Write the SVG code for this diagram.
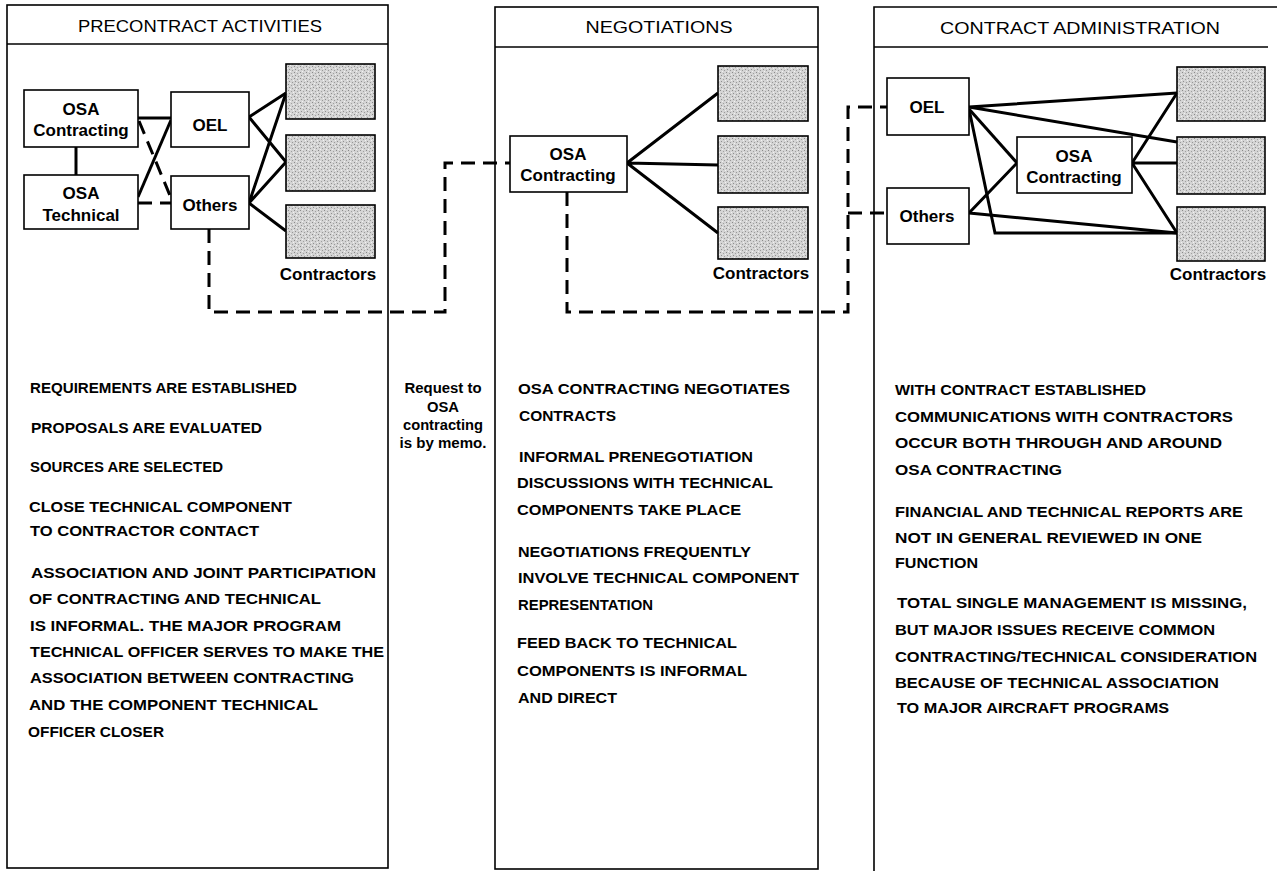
<svg xmlns="http://www.w3.org/2000/svg" width="1277" height="871" viewBox="0 0 1277 871">
<defs>
<pattern id="stip" width="6" height="6" patternUnits="userSpaceOnUse">
<rect width="6" height="6" fill="#d4d4d4"/>
<rect x="0" y="0" width="1" height="1" fill="#8a8a8a"/>
<rect x="3" y="1" width="1" height="1" fill="#a0a0a0"/>
<rect x="1" y="3" width="1" height="1" fill="#909090"/>
<rect x="4" y="4" width="1" height="1" fill="#999999"/>
<rect x="5" y="2" width="1" height="1" fill="#f2f2f2"/>
<rect x="2" y="5" width="1" height="1" fill="#f2f2f2"/>
</pattern>
<style>
.panel{fill:none;stroke:#000;stroke-width:1.6}
.box{fill:#fff;stroke:#000;stroke-width:1.6}
.con{fill:url(#stip);stroke:#000;stroke-width:1.6}
.ln{fill:none;stroke:#000;stroke-width:3}
.dash{fill:none;stroke:#000;stroke-width:3;stroke-dasharray:14 8}
.hd{font-family:"Liberation Sans",Arial,sans-serif;font-size:17px;text-anchor:middle;fill:#000}
.nd{font-family:"Liberation Sans",Arial,sans-serif;font-size:17px;font-weight:bold;text-anchor:middle;fill:#000}
.tx{font-family:"Liberation Sans",Arial,sans-serif;font-size:15.5px;font-weight:bold;fill:#000}
.memo{font-family:"Liberation Sans",Arial,sans-serif;font-size:14px;font-weight:bold;text-anchor:middle;fill:#000}
</style>
</defs>
<rect width="1277" height="871" fill="#fff"/>

<g id="panels">
<rect class="panel" x="7" y="5" width="381" height="863"/>
<line class="panel" x1="7" y1="44" x2="388" y2="44"/>
<rect class="panel" x="495" y="7" width="323" height="862"/>
<line class="panel" x1="495" y1="47" x2="818" y2="47"/>
<path class="panel" d="M874,871 V7 H1277"/>
<line class="panel" x1="874" y1="47" x2="1268" y2="47"/>
<text class="hd" x="200" y="32" textLength="244" lengthAdjust="spacingAndGlyphs">PRECONTRACT  ACTIVITIES</text>
<text class="hd" x="659" y="33" textLength="147" lengthAdjust="spacingAndGlyphs">NEGOTIATIONS</text>
<text class="hd" x="1080" y="34" textLength="280" lengthAdjust="spacingAndGlyphs">CONTRACT  ADMINISTRATION</text>
</g>

<g id="connectors">
<path class="ln" d="M138,118 H171"/>
<path class="ln" d="M76,147 V175"/>
<path class="ln" d="M138,197 L171,120"/>
<path class="dash" d="M139,121 L171,198"/>
<path class="dash" d="M138,203 H171"/>
<path class="ln" d="M249,117 L286,93 M249,117 L286,162"/>
<path class="ln" d="M249,203 L286,93 M249,203 L286,162 M249,203 L286,231"/>
<path class="dash" d="M209,229 V312 H445 V163 H510"/>
<path class="ln" d="M627,163 L718,93 M627,163 L718,165 M627,163 L718,233"/>
<path class="dash" d="M567,192 V312 H848 V107 H887"/>
<path class="dash" d="M848,213 H887"/>
<path class="ln" d="M969,107 L1177,93 M969,107 L1177,142"/>
<path class="ln" d="M969,109 L1017,163"/>
<path class="ln" d="M969,109 L995,233 H1177"/>
<path class="ln" d="M969,213 L1017,163 M969,213 L1177,233"/>
<path class="ln" d="M1132,163 L1177,93 M1132,163 H1177 M1132,163 L1177,233"/>
</g>

<g id="p1-osa-contracting">
<rect class="box" x="24" y="90" width="114" height="57"/>
<text class="nd" x="81" y="115">OSA</text>
<text class="nd" x="81" y="136">Contracting</text>
</g>
<g id="p1-osa-technical">
<rect class="box" x="24" y="175" width="114" height="54"/>
<text class="nd" x="81" y="199">OSA</text>
<text class="nd" x="81" y="221">Technical</text>
</g>
<g id="p1-oel">
<rect class="box" x="171" y="92" width="78" height="55"/>
<text class="nd" x="210" y="131">OEL</text>
</g>
<g id="p1-others">
<rect class="box" x="171" y="176" width="78" height="53"/>
<text class="nd" x="210" y="211">Others</text>
</g>
<g id="p1-contractors">
<rect class="con" x="286" y="64" width="89" height="55"/>
<rect class="con" x="286" y="135" width="89" height="56"/>
<rect class="con" x="286" y="205" width="89" height="53"/>
<text class="nd" x="328" y="280">Contractors</text>
</g>

<g id="p2-osa-contracting">
<rect class="box" x="510" y="136" width="117" height="56"/>
<text class="nd" x="568" y="160">OSA</text>
<text class="nd" x="568" y="181">Contracting</text>
</g>
<g id="p2-contractors">
<rect class="con" x="718" y="66" width="90" height="55"/>
<rect class="con" x="718" y="136" width="90" height="57"/>
<rect class="con" x="718" y="207" width="90" height="52"/>
<text class="nd" x="761" y="279">Contractors</text>
</g>

<g id="p3-oel">
<rect class="box" x="887" y="78" width="82" height="57"/>
<text class="nd" x="927" y="113">OEL</text>
</g>
<g id="p3-others">
<rect class="box" x="887" y="188" width="82" height="56"/>
<text class="nd" x="927" y="222">Others</text>
</g>
<g id="p3-osa-contracting">
<rect class="box" x="1017" y="137" width="115" height="56"/>
<text class="nd" x="1074" y="162">OSA</text>
<text class="nd" x="1074" y="183">Contracting</text>
</g>
<g id="p3-contractors">
<rect class="con" x="1177" y="67" width="88" height="54"/>
<rect class="con" x="1177" y="137" width="88" height="57"/>
<rect class="con" x="1177" y="207" width="88" height="54"/>
<text class="nd" x="1218" y="280">Contractors</text>
</g>

<g id="p1-text" class="tx">
<text x="30" y="393" textLength="267" lengthAdjust="spacingAndGlyphs">REQUIREMENTS ARE ESTABLISHED</text>
<text x="31" y="433" textLength="231" lengthAdjust="spacingAndGlyphs">PROPOSALS ARE EVALUATED</text>
<text x="30" y="472" textLength="193" lengthAdjust="spacingAndGlyphs">SOURCES ARE SELECTED</text>
<text x="29" y="512" textLength="263" lengthAdjust="spacingAndGlyphs">CLOSE TECHNICAL COMPONENT</text>
<text x="30" y="536" textLength="229" lengthAdjust="spacingAndGlyphs">TO CONTRACTOR CONTACT</text>
<text x="31" y="578" textLength="345" lengthAdjust="spacingAndGlyphs">ASSOCIATION AND JOINT PARTICIPATION</text>
<text x="29" y="604" textLength="292" lengthAdjust="spacingAndGlyphs">OF CONTRACTING AND TECHNICAL</text>
<text x="30" y="631" textLength="311" lengthAdjust="spacingAndGlyphs">IS INFORMAL.  THE MAJOR PROGRAM</text>
<text x="30" y="657" textLength="354" lengthAdjust="spacingAndGlyphs">TECHNICAL OFFICER SERVES TO MAKE THE</text>
<text x="30" y="683" textLength="324" lengthAdjust="spacingAndGlyphs">ASSOCIATION BETWEEN CONTRACTING</text>
<text x="29" y="710" textLength="289" lengthAdjust="spacingAndGlyphs">AND THE COMPONENT TECHNICAL</text>
<text x="28" y="737" textLength="136" lengthAdjust="spacingAndGlyphs">OFFICER CLOSER</text>
</g>

<g id="memo-note" class="memo">
<text x="443" y="393" textLength="77" lengthAdjust="spacingAndGlyphs">Request to</text>
<text x="443" y="412" textLength="32" lengthAdjust="spacingAndGlyphs">OSA</text>
<text x="443" y="430" textLength="80" lengthAdjust="spacingAndGlyphs">contracting</text>
<text x="443" y="448" textLength="87" lengthAdjust="spacingAndGlyphs">is by memo.</text>
</g>

<g id="p2-text" class="tx">
<text x="518" y="394" textLength="272" lengthAdjust="spacingAndGlyphs">OSA CONTRACTING NEGOTIATES</text>
<text x="519" y="421" textLength="97" lengthAdjust="spacingAndGlyphs">CONTRACTS</text>
<text x="519" y="462" textLength="234" lengthAdjust="spacingAndGlyphs">INFORMAL PRENEGOTIATION</text>
<text x="517" y="488" textLength="256" lengthAdjust="spacingAndGlyphs">DISCUSSIONS WITH TECHNICAL</text>
<text x="517" y="515" textLength="224" lengthAdjust="spacingAndGlyphs">COMPONENTS TAKE PLACE</text>
<text x="518" y="557" textLength="233" lengthAdjust="spacingAndGlyphs">NEGOTIATIONS FREQUENTLY</text>
<text x="518" y="583" textLength="281" lengthAdjust="spacingAndGlyphs">INVOLVE TECHNICAL COMPONENT</text>
<text x="518" y="610" textLength="135" lengthAdjust="spacingAndGlyphs">REPRESENTATION</text>
<text x="517" y="648" textLength="220" lengthAdjust="spacingAndGlyphs">FEED BACK TO TECHNICAL</text>
<text x="517" y="676" textLength="230" lengthAdjust="spacingAndGlyphs">COMPONENTS IS INFORMAL</text>
<text x="518" y="703" textLength="99" lengthAdjust="spacingAndGlyphs">AND DIRECT</text>
</g>

<g id="p3-text" class="tx">
<text x="895" y="395" textLength="251" lengthAdjust="spacingAndGlyphs">WITH CONTRACT ESTABLISHED</text>
<text x="895" y="422" textLength="338" lengthAdjust="spacingAndGlyphs">COMMUNICATIONS WITH CONTRACTORS</text>
<text x="895" y="448" textLength="327" lengthAdjust="spacingAndGlyphs">OCCUR BOTH THROUGH AND AROUND</text>
<text x="895" y="475" textLength="167" lengthAdjust="spacingAndGlyphs">OSA CONTRACTING</text>
<text x="895" y="517" textLength="348" lengthAdjust="spacingAndGlyphs">FINANCIAL AND TECHNICAL REPORTS ARE</text>
<text x="895" y="543" textLength="307" lengthAdjust="spacingAndGlyphs">NOT IN GENERAL REVIEWED IN ONE</text>
<text x="895" y="568" textLength="83" lengthAdjust="spacingAndGlyphs">FUNCTION</text>
<text x="897" y="608" textLength="350" lengthAdjust="spacingAndGlyphs">TOTAL SINGLE MANAGEMENT IS MISSING,</text>
<text x="895" y="635" textLength="320" lengthAdjust="spacingAndGlyphs">BUT MAJOR ISSUES RECEIVE COMMON</text>
<text x="895" y="662" textLength="362" lengthAdjust="spacingAndGlyphs">CONTRACTING/TECHNICAL CONSIDERATION</text>
<text x="895" y="688" textLength="324" lengthAdjust="spacingAndGlyphs">BECAUSE OF TECHNICAL ASSOCIATION</text>
<text x="897" y="713" textLength="272" lengthAdjust="spacingAndGlyphs">TO MAJOR AIRCRAFT PROGRAMS</text>
</g>
</svg>
